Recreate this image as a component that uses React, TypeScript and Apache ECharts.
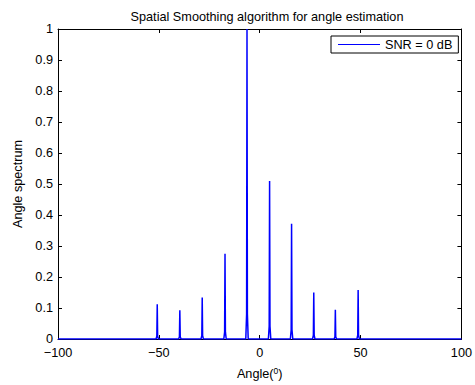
import React, { useEffect, useRef } from "react";
import * as echarts from "echarts";

const peakAngles = [-50.8, -39.6, -28.5, -17.2, -6.3, 4.9, 15.8, 26.8, 37.5, 48.8];
const peakHeights = [0.112, 0.093, 0.134, 0.275, 1.0, 0.51, 0.372, 0.15, 0.094, 0.158];
const xTicks = [-100, -50, 0, 50, 100];
const yTicks = [0, 0.1, 0.2, 0.3, 0.4, 0.5, 0.6, 0.7, 0.8, 0.9, 1];
const seriesName = "SNR = 0 dB";

function buildData(): [number, number][] {
  const d: [number, number][] = [[xTicks[0], 0]];
  peakAngles.forEach((a, i) => {
    const h = peakHeights[i];
    d.push([a - 0.6, 0]);
    d.push([a - 0.2, h * 0.08]);
    d.push([a, h]);
    d.push([a + 0.2, h * 0.08]);
    d.push([a + 0.6, 0]);
  });
  d.push([xTicks[xTicks.length - 1], 0]);
  return d;
}

const font = "Liberation Sans, Arial, sans-serif";
const fs = 12.7;

export default function App() {
  const ref = useRef<HTMLDivElement>(null);
  useEffect(() => {
    if (!ref.current) return;
    const chart = echarts.init(ref.current, null, { renderer: "svg" });
    const axisLine = { show: true, onZero: false, lineStyle: { color: "#000", width: 1 } };
    const tickIn = { show: true, inside: true, length: 4, lineStyle: { color: "#000" } };
    chart.setOption({
      animation: false,
      backgroundColor: "#fff",
      title: {
        text: "Spatial Smoothing algorithm for angle estimation",
        left: 262,
        textAlign: "center",
        top: 5,
        textStyle: { fontFamily: font, fontSize: fs, fontWeight: "normal", color: "#000" },
      },
      legend: {
        left: 331,
        top: 36,
        orient: "horizontal",
        backgroundColor: "#fff",
        borderColor: "#000",
        borderWidth: 1,
        borderRadius: 0,
        padding: [2, 6, 2, 7],
        itemWidth: 42,
        itemHeight: 11,
        itemGap: 4,
        textStyle: { fontFamily: font, fontSize: fs, color: "#000" },
        data: [{ name: seriesName, icon: "path://M0,5L42,5L42,6L0,6Z" }],
      },
      grid: { left: 58, right: 10, top: 29, bottom: 44, containLabel: false },
      xAxis: [
        {
          type: "value",
          min: -100,
          max: 100,
          interval: 50,
          axisLine,
          axisTick: tickIn,
          splitLine: { show: false },
          axisLabel: { fontFamily: font, fontSize: fs, color: "#000", margin: 7, formatter: (v: number) => (v < 0 ? "\u2212" + Math.abs(v) : String(v)) },
          name: "Angle({sup|0})",
          nameLocation: "middle",
          nameGap: 27,
          nameTextStyle: {
            fontFamily: font,
            fontSize: fs,
            color: "#000",
            rich: { sup: { fontFamily: font, fontSize: 8.5, color: "#000", verticalAlign: "top", padding: [0, 0, 6, 0] } },
          },
        },
        {
          type: "value",
          position: "top",
          min: -100,
          max: 100,
          interval: 50,
          axisLine,
          axisTick: tickIn,
          axisLabel: { show: false },
          splitLine: { show: false },
        },
      ],
      yAxis: [
        {
          type: "value",
          min: 0,
          max: 1,
          interval: 0.1,
          axisLine,
          axisTick: tickIn,
          splitLine: { show: false },
          axisLabel: { fontFamily: font, fontSize: fs, color: "#000", margin: 5, formatter: (v: number) => String(Math.round(v * 10) / 10) },
          name: "Angle spectrum",
          nameLocation: "middle",
          nameGap: 25,
          nameTextStyle: { fontFamily: font, fontSize: fs, color: "#000" },
        },
        {
          type: "value",
          position: "right",
          min: 0,
          max: 1,
          interval: 0.1,
          axisLine,
          axisTick: tickIn,
          axisLabel: { show: false },
          splitLine: { show: false },
        },
      ],
      series: [
        {
          name: seriesName,
          type: "line",
          data: buildData(),
          showSymbol: false,
          symbol: "none",
          color: "#0000ff",
          lineStyle: { color: "#0000ff", width: 1.5 },
          z: 1,
        },
      ],
    });
    return () => chart.dispose();
  }, []);
  return <div ref={ref} style={{ width: 475, height: 385, position: "absolute", left: 0, top: 0 }} />;
}
